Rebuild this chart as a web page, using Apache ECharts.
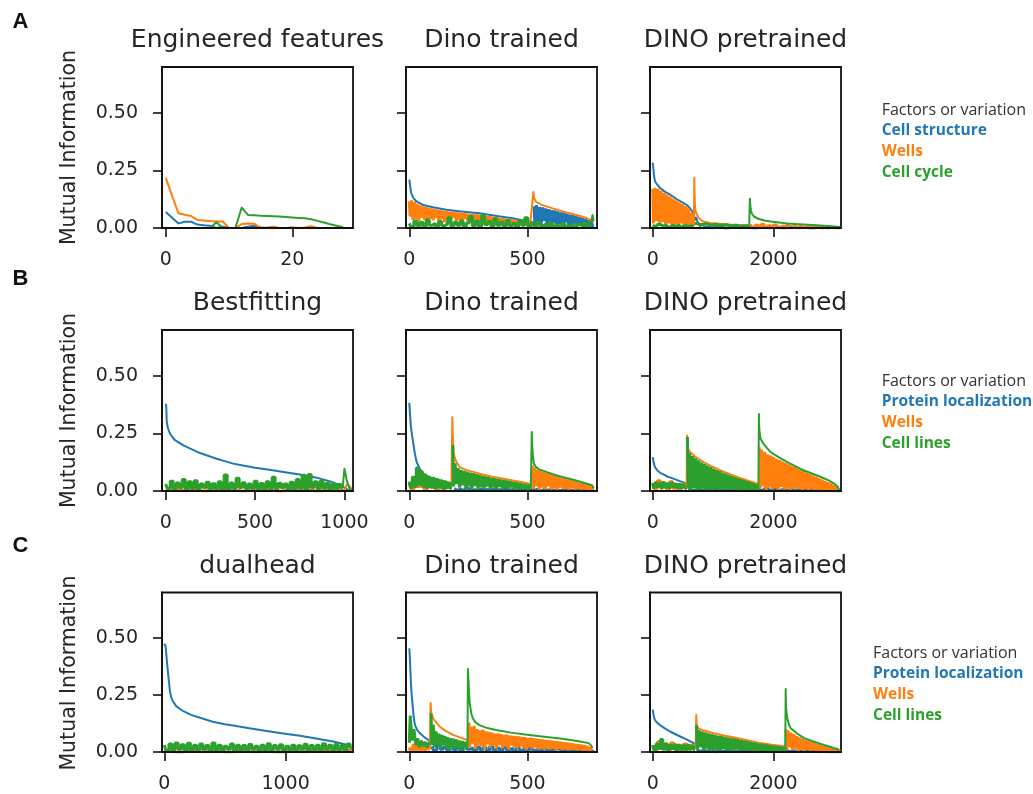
<!DOCTYPE html>
<html><head><meta charset="utf-8">
<script src="https://cdn.jsdelivr.net/npm/echarts@6/dist/echarts.min.js"></script>
<style>html,body{margin:0;padding:0;background:#fff}#c{width:1033px;height:794px}</style>
</head><body><div id="c"></div>
<script>
// ---------- text / ticks ----------
const titles = [['Engineered features','Dino trained','DINO pretrained'],['Bestfitting','Dino trained','DINO pretrained'],['dualhead','Dino trained','DINO pretrained']];
const rowFactors = [['Cell structure','Wells','Cell cycle'],['Protein localization','Wells','Cell lines'],['Protein localization','Wells','Cell lines']];
const panelLetters = ['A','B','C'];
const legendHeading = 'Factors or variation';
const yLabel = 'Mutual Information';
const yTicks = [0, 0.25, 0.5];
const xTicksA1 = [0, 20];
const xTicksB1 = [0, 500, 1000];
const xTicksC1 = [0, 1000];
const xTicksDino = [0, 500];
const xTicksPre = [0, 2000];

// ---------- A1: Engineered features (x = feature index 0..28) ----------
const A1_blue   = [0.07,0.045,0.02,0.027,0.027,0.015,0.012,0.01,0,0.006,0,0,0,0.005,0.01,0.002,0,0,0,0,0,0,0,0,0,0,0,0,0];
const A1_orange = [0.218,0.14,0.064,0.058,0.052,0.035,0.033,0.03,0.028,0.028,0,0,0.017,0.02,0.018,0,0.002,0.006,0,0,0.003,0,0.002,0.008,0,0,0,0,0];
const A1_green  = [0,0,0,0,0,0,0,0,0.025,0,0,0,0.089,0.057,0.055,0.053,0.052,0.051,0.05,0.048,0.046,0.044,0.042,0.038,0.031,0.024,0.016,0.01,0.003];

// ---------- A2: Dino trained ----------
const A2_blueSorted = [[0,0.21],[4,0.18],[8,0.152],[17,0.13],[31,0.115],[59,0.1],[100,0.09],[157,0.079],[220,0.072],[297,0.064],[370,0.052],[437,0.042],[494,0.031],[522,0.026]];
const A2_blueNoise = [0.095,0.012,0.1,0.02,0.092,0.008,0.09,0.03,0.085,0.015,0.082,0.005,0.078,0.022,0.076,0.01,0.072,0.018,0.068,0.006,0.066,0.025,0.062,0.012,0.058,0.004,0.056,0.02,0.052,0.01,0.048,0.016,0.044,0.005,0.04,0.012,0.034,0.008,0.028,0.004];
const A2_orangeNoise = [0.115,0.05,0.12,0.035,0.115,0.04,0.105,0.03,0.098,0.045,0.094,0.035,0.091,0.028,0.088,0.04,0.085,0.033,0.082,0.045,0.08,0.03,0.077,0.038,0.075,0.025,0.073,0.04,0.071,0.032,0.07,0.045,0.068,0.03,0.067,0.036,0.066,0.022,0.064,0.04,0.063,0.03,0.062,0.035,0.06,0.028,0.059,0.038,0.058,0.03,0.056,0.024,0.054,0.034,0.052,0.028,0.05,0.032,0.048,0.022,0.046,0.03,0.044,0.026,0.042,0.031,0.04,0.02,0.038,0.028,0.036,0.022,0.034,0.026,0.032,0.018,0.03,0.024,0.028,0.018,0.026,0.02,0.023,0.015];
const A2_orangeSorted = [[512,0.022],[525,0.157],[528,0.13],[535,0.115],[541,0.108],[560,0.1],[583,0.093],[620,0.081],[653,0.071],[690,0.061],[723,0.052],[750,0.043],[772,0.033],[780,0.028]];
const A2_greenNoise = [0.02,0.005,0.03,0.01,0.025,0.004,0.035,0.012,0.02,0.006,0.028,0.01,0.018,0.045,0.008,0.025,0.012,0.03,0.005,0.022,0.05,0.01,0.03,0.006,0.055,0.015,0.028,0.008,0.04,0.012,0.025,0.006,0.033,0.01,0.02,0.004,0.03,0.012,0.045,0.008,0.02,0.005,0.025,0.01,0.018,0.004,0.022,0.008,0.015,0.005,0.02,0.006,0.012,0.018,0.005,0.015,0.008,0.02,0.006,0.025];
const A2_greenTail = [[770,0.025],[775,0.057],[780,0.03]];

// ---------- A3: DINO pretrained ----------
const A3_blueSorted = [[0,0.284],[10,0.26],[20,0.23],[38,0.203],[70,0.19],[122,0.174],[200,0.158],[288,0.145],[400,0.125],[500,0.11],[566,0.1],[620,0.085],[660,0.07],[688,0.05],[700,0.035],[720,0.045],[740,0.03],[770,0.015],[800,0.005]];
const A3_blueNoise = [0.004,0.001,0.006,0,0.003,0.002,0.005,0,0.004,0.001,0.003,0,0.004,0.001,0.002,0,0.003,0.001,0.002,0];
const A3_orangeNoise = [0.17,0.02,0.175,0.03,0.17,0.015,0.162,0.025,0.152,0.012,0.145,0.02,0.137,0.01,0.128,0.018,0.12,0.012,0.112,0.02,0.104,0.01,0.096,0.015,0.085,0.012,0.065,0.01];
const A3_orangeSorted = [[682,0.01],[690,0.218],[695,0.15],[700,0.1],[710,0.075],[722,0.064],[760,0.045],[800,0.035],[840,0.028],[950,0.022],[1100,0.018],[1300,0.014],[1500,0.011],[1600,0.01]];
const A3_orangeNoise2 = [0.015,0.002,0.012,0.004,0.016,0.001,0.01,0.003,0.013,0.001,0.009,0.002,0.011,0,0.008,0.002,0.009,0.001,0.007,0,0.006,0.002,0.005,0,0.004,0.001,0.003,0,0.002,0];
const A3_greenNoise = [0.012,0.005,0.015,0.008,0.013,0.004,0.012,0.007,0.014,0.005,0.011,0.006,0.01,0.008];
const A3_greenNoise2 = [0.02,0.015,0.018,0.013,0.016,0.012,0.014,0.01,0.012,0.009,0.01,0.008];
const A3_greenSorted = [[1600,0.008],[1611,0.127],[1620,0.095],[1630,0.075],[1645,0.062],[1678,0.05],[1750,0.04],[1850,0.033],[1955,0.028],[2233,0.02],[2500,0.015],[2788,0.011],[3000,0.007],[3110,0.004]];

// ---------- B1: Bestfitting ----------
const B1_blueSorted = [[0,0.379],[3,0.37],[6,0.3],[12,0.275],[24,0.249],[50,0.222],[99,0.198],[150,0.18],[192,0.165],[240,0.152],[285,0.14],[330,0.13],[378,0.119],[440,0.11],[500,0.101],[580,0.092],[659,0.083],[750,0.072],[845,0.058],[920,0.042],[976,0.025],[1000,0.015],[1010,0.008],[1025,0.003],[1040,0.001]];
const B1_orangeNoise = [0.002,0.008,0.001,0.005,0,0.01,0.002,0.004,0,0.006,0.001,0.003,0,0.005,0.002,0.004,0,0.003,0.001,0.002];
const B1_orangeTail = [[1000,0.002],[1005,0.01],[1015,0.03],[1025,0.035],[1035,0.015],[1040,0.005]];
const B1_greenNoise = [0.03,0.012,0.042,0.01,0.035,0.015,0.05,0.008,0.04,0.012,0.045,0.01,0.03,0.015,0.038,0.01,0.032,0.012,0.04,0.008,0.07,0.01,0.035,0.012,0.055,0.015,0.036,0.01,0.03,0.012,0.042,0.01,0.033,0.008,0.04,0.012,0.06,0.01,0.034,0.014,0.03,0.008,0.038,0.01,0.05,0.012,0.068,0.01,0.072,0.015,0.04,0.01,0.045,0.012,0.035,0.008,0.03,0.01,0.028,0.012];
const B1_greenTail = [[990,0.012],[995,0.02],[1000,0.097],[1005,0.08],[1012,0.05],[1020,0.03],[1030,0.01],[1040,0.005]];

// ---------- B2: Dino trained ----------
const B2_blueSorted = [[0,0.383],[3,0.33],[7,0.277],[12,0.24],[17,0.205],[24,0.16],[31,0.126],[45,0.095],[59,0.075],[80,0.062],[101,0.054],[140,0.042],[178,0.032],[185,0.028]];
const B2_blueNoise = [0.01,0.003,0.008,0.001,0.012,0.004,0.006,0.002,0.01,0.003,0.007,0.001,0.009,0.004,0.006,0.002,0.011,0.003,0.007,0.001,0.008,0.003,0.01,0.002,0.006,0.004,0.009,0.001,0.007,0.003,0.008,0.002,0.005,0.001,0.007,0.003,0.006,0.001,0.005,0.002,0.004,0.001,0.003,0.001,0.002];
const B2_orangeNoise = [0.04,0.01,0.05,0.02,0.035,0.008,0.045,0.015,0.03,0.01,0.04,0.012,0.03,0.015];
const B2_orangeSorted = [[178,0.015],[182,0.321],[184,0.24],[187,0.17],[192,0.145],[200,0.125],[213,0.104],[240,0.092],[270,0.083],[297,0.075],[350,0.062],[400,0.053],[437,0.046],[480,0.038],[507,0.032],[516,0.03]];
const B2_orangeNoise2 = [0.11,0.01,0.1,0.02,0.091,0.005,0.086,0.015,0.082,0.008,0.078,0.02,0.073,0.006,0.068,0.012,0.064,0.004,0.06,0.015,0.057,0.008,0.054,0.01,0.05,0.004,0.047,0.012,0.044,0.006,0.04,0.01,0.036,0.003,0.033,0.008,0.03,0.004,0.025,0.006,0.018,0.002];
const B2_greenNoise = [0.04,0.015,0.06,0.02,0.1,0.03,0.085,0.02,0.07,0.015,0.06,0.02,0.055,0.012,0.05,0.018,0.045,0.01,0.04,0.015,0.035,0.01];
const B2_greenNoise2 = [0.2,0.02,0.12,0.03,0.1,0.015,0.092,0.025,0.088,0.01,0.084,0.02,0.08,0.012,0.077,0.022,0.073,0.008,0.07,0.018,0.066,0.01,0.063,0.02,0.06,0.008,0.057,0.015,0.055,0.01,0.052,0.018,0.05,0.006,0.048,0.014,0.045,0.01,0.042,0.016,0.04,0.006,0.037,0.012,0.035,0.008,0.032,0.012,0.03,0.006,0.027,0.01];
const B2_greenSorted = [[514,0.01],[518,0.256],[520,0.2],[523,0.15],[527,0.119],[535,0.105],[549,0.094],[580,0.083],[610,0.072],[647,0.061],[690,0.05],[730,0.038],[773,0.025],[780,0.012]];

// ---------- B3: DINO pretrained ----------
const B3_blueSorted = [[0,0.147],[10,0.133],[20,0.118],[38,0.104],[80,0.088],[130,0.078],[177,0.072],[250,0.062],[343,0.054],[450,0.043],[566,0.032],[580,0.028]];
const B3_blueNoise = [0.012,0.003,0.01,0.002,0.008,0.001,0.011,0.003,0.006,0.002,0.009,0.001,0.007,0.003,0.005,0.001,0.006,0.002,0.004,0.001,0.012,0.003,0.01,0.002,0.008,0.001,0.007,0.002,0.005,0.001,0.006,0.002,0.004,0.001,0.005,0.001,0.003,0.001,0.002,0];
const B3_orangeNoise = [0.035,0.01,0.045,0.015,0.03,0.008,0.04,0.012,0.028,0.01,0.03,0.012];
const B3_orangeSorted = [[562,0.012],[570,0.241],[575,0.2],[590,0.18],[622,0.169],[700,0.15],[843,0.126],[980,0.107],[1122,0.09],[1260,0.075],[1400,0.061],[1560,0.047],[1733,0.032],[1755,0.03]];
const B3_orangeNoise2 = [0.19,0.01,0.18,0.02,0.17,0.005,0.16,0.015,0.155,0.008,0.148,0.012,0.14,0.004,0.134,0.018,0.128,0.006,0.122,0.01,0.116,0.003,0.11,0.012,0.104,0.007,0.098,0.01,0.092,0.004,0.086,0.009,0.08,0.002,0.074,0.008,0.068,0.005,0.062,0.006,0.056,0.002,0.05,0.005,0.044,0.003,0.038,0.004,0.032,0.001,0.024,0.003,0.015,0.001];
const B3_greenNoise = [0.035,0.01,0.04,0.015,0.038,0.008,0.042,0.012,0.036,0.01,0.04,0.014,0.035,0.008,0.033,0.01,0.03,0.012];
const B3_greenNoise2 = [0.235,0.01,0.165,0.005,0.152,0.012,0.142,0.004,0.133,0.008,0.125,0.01,0.117,0.003,0.11,0.009,0.104,0.006,0.097,0.011,0.091,0.004,0.086,0.008,0.08,0.005,0.075,0.01,0.07,0.003,0.065,0.007,0.06,0.005,0.056,0.008,0.051,0.003,0.047,0.006,0.043,0.004,0.039,0.005,0.035,0.003,0.03,0.004];
const B3_greenSorted = [[1752,0.004],[1761,0.335],[1765,0.28],[1775,0.25],[1788,0.227],[1850,0.2],[1955,0.169],[2100,0.145],[2233,0.126],[2370,0.107],[2511,0.089],[2650,0.075],[2788,0.061],[2900,0.048],[3010,0.032],[3070,0.018],[3093,0.003]];

// ---------- C1: dualhead ----------
const C1_blueSorted = [[0,0.475],[5,0.47],[10,0.465],[15,0.44],[20,0.407],[33,0.335],[47,0.263],[60,0.235],[74,0.22],[100,0.2],[157,0.179],[220,0.163],[294,0.15],[400,0.133],[500,0.122],[569,0.116],[700,0.104],[844,0.092],[980,0.081],[1119,0.071],[1250,0.059],[1393,0.046],[1503,0.032],[1530,0.025],[1545,0.01]];
const C1_orangeNoise = [0.003,0,0.005,0.001,0.002,0,0.004,0.001,0.003,0,0.006,0.001,0.01,0.002,0.012,0.004];
const C1_greenNoise = [0.03,0.008,0.035,0.01,0.04,0.012,0.032,0.006,0.038,0.01,0.03,0.008,0.035,0.012,0.028,0.006,0.04,0.01,0.03,0.008,0.025,0.012,0.035,0.006,0.03,0.01,0.028,0.008,0.033,0.012,0.025,0.006,0.03,0.01,0.036,0.008,0.028,0.012,0.032,0.006,0.025,0.01,0.03,0.008,0.027,0.012,0.034,0.006,0.028,0.01,0.03,0.008,0.036,0.012,0.03,0.006,0.033,0.01,0.028,0.008,0.035,0.02];

// ---------- C2: Dino trained ----------
const C2_blueSorted = [[0,0.455],[3,0.4],[6,0.321],[10,0.25],[14,0.205],[19,0.15],[24,0.118],[33,0.097],[45,0.082],[60,0.068],[80,0.053],[90,0.045]];
const C2_blueNoise = [0.025,0.008,0.03,0.012,0.022,0.006,0.028,0.01,0.02,0.005,0.025,0.012,0.018,0.006,0.022,0.01,0.02,0.004,0.024,0.008,0.018,0.006,0.022,0.01,0.016,0.004,0.02,0.008,0.015,0.005,0.018,0.008,0.014,0.004,0.016,0.007,0.012,0.004,0.014,0.006,0.012,0.003,0.01,0.005,0.009,0.003,0.008,0.002,0.006,0.002];
const C2_orangeNoise = [0.02,0.005,0.03,0.01,0.025,0.008,0.02,0.01,0.03,0.012];
const C2_orangeSorted = [[87,0.012],[90,0.215],[93,0.17],[101,0.147],[115,0.128],[129,0.111],[150,0.095],[185,0.075],[215,0.063],[244,0.053],[248,0.05]];
const C2_orangeNoise2 = [0.13,0.02,0.11,0.035,0.115,0.015,0.1,0.03,0.095,0.025,0.098,0.012,0.09,0.035,0.088,0.02,0.085,0.028,0.08,0.015,0.082,0.03,0.078,0.018,0.075,0.025,0.077,0.012,0.072,0.028,0.07,0.02,0.071,0.015,0.068,0.025,0.066,0.018,0.065,0.01,0.062,0.022,0.063,0.015,0.06,0.02,0.058,0.012,0.056,0.018,0.055,0.01,0.053,0.016,0.052,0.012,0.05,0.015,0.048,0.008,0.047,0.014,0.045,0.01,0.043,0.012,0.042,0.008,0.04,0.01,0.038,0.012,0.036,0.008,0.034,0.01,0.032,0.006,0.03,0.008,0.027,0.005,0.022,0.004];
const C2_greenNoise = [0.04,0.16,0.05,0.1,0.03,0.06,0.02,0.05,0.025,0.045,0.02,0.04];
const C2_greenNoise2 = [0.17,0.03,0.12,0.02,0.09,0.035,0.08,0.015,0.075,0.03,0.07,0.02,0.065,0.01,0.06,0.025,0.058,0.015,0.055,0.02,0.05,0.012,0.048,0.02,0.045,0.015];
const C2_greenSorted = [[246,0.015],[248,0.364],[251,0.3],[255,0.22],[262,0.17],[269,0.147],[280,0.13],[297,0.118],[330,0.105],[367,0.097],[430,0.085],[507,0.075],[580,0.066],[647,0.058],[710,0.048],[759,0.039],[770,0.028],[775,0.017]];

// ---------- C3: DINO pretrained ----------
const C3_blueSorted = [[0,0.186],[10,0.17],[20,0.152],[38,0.14],[80,0.127],[122,0.118],[200,0.104],[288,0.09],[370,0.079],[455,0.068],[560,0.055],[677,0.039],[700,0.034]];
const C3_blueNoise = [0.01,0.003,0.008,0.002,0.012,0.001,0.006,0.003,0.009,0.002,0.005,0.001,0.007,0.003,0.006,0.001,0.005,0.002,0.004,0.001,0.008,0.002,0.01,0.003,0.007,0.001,0.006,0.002,0.005,0.001,0.004,0.002,0.003,0.001,0.004,0.001,0.002,0.001,0.002,0];
const C3_orangeNoise = [0.03,0.01,0.045,0.015,0.035,0.008,0.04,0.012,0.03,0.01,0.035,0.012,0.03,0.015];
const C3_orangeSorted = [[712,0.015],[722,0.162],[726,0.13],[735,0.115],[760,0.104],[850,0.094],[1010,0.082],[1200,0.071],[1400,0.061],[1600,0.05],[1788,0.039],[2000,0.031],[2177,0.025],[2200,0.024]];
const C3_orangeNoise2 = [0.1,0.01,0.095,0.02,0.085,0.008,0.078,0.015,0.07,0.005,0.064,0.012,0.058,0.004,0.053,0.01,0.048,0.006,0.043,0.008,0.039,0.003,0.035,0.007,0.031,0.004,0.027,0.005,0.023,0.002,0.019,0.004,0.015,0.002,0.011,0.003,0.007,0.001];
const C3_greenNoise = [0.03,0.01,0.035,0.015,0.055,0.012,0.035,0.01,0.03,0.015,0.032,0.008,0.03,0.012,0.028,0.01,0.03,0.012,0.025,0.01];
const C3_greenNoise2 = [0.118,0.01,0.096,0.02,0.09,0.008,0.086,0.015,0.082,0.005,0.078,0.012,0.075,0.01,0.072,0.006,0.069,0.014,0.066,0.008,0.064,0.01,0.061,0.004,0.059,0.012,0.056,0.007,0.053,0.009,0.05,0.005,0.048,0.01,0.045,0.006,0.042,0.008,0.039,0.004,0.036,0.007,0.034,0.005,0.032,0.006,0.03,0.003,0.028,0.005,0.026,0.004,0.024,0.003,0.022,0.002];
const C3_greenSorted = [[2197,0.002],[2205,0.277],[2210,0.2],[2220,0.17],[2233,0.147],[2260,0.12],[2288,0.104],[2400,0.08],[2511,0.061],[2650,0.047],[2788,0.035],[2950,0.022],[3093,0.01]];

// ---------- helpers ----------
// spread sampled values evenly over a feature-index span
function S(x0, x1, ys) { const n = ys.length; return ys.map((y, i) => [x0 + (x1 - x0) * i / (n - 1), y]); }
function idx(ys) { return ys.map((y, i) => [i, y]); }
// piece types: L = smooth (sorted) line, N = dense noisy trace
const L = d => ({ d: d, noisy: false });
const N = d => ({ d: d, noisy: true });

const panels = [
  { xr: [-0.6, 29.6], xt: xTicksA1, lines: [[L(idx(A1_blue))], [L(idx(A1_orange))], [L(idx(A1_green))]] },
  { xr: [-14, 794], xt: xTicksDino, lines: [
      [L(A2_blueSorted), N(S(528, 780, A2_blueNoise))],
      [N(S(0, 508, A2_orangeNoise)), L(A2_orangeSorted)],
      [N(S(0, 768, A2_greenNoise)), L(A2_greenTail)]] },
  { xr: [-45, 3122], xt: xTicksPre, lines: [
      [L(A3_blueSorted), N(S(830, 3100, A3_blueNoise))],
      [N(S(0, 680, A3_orangeNoise)), L(A3_orangeSorted), N(S(1620, 3100, A3_orangeNoise2))],
      [N(S(0, 680, A3_greenNoise)), N(S(700, 1600, A3_greenNoise2)), L(A3_greenSorted)]] },
  { xr: [-20.7, 1048], xt: xTicksB1, lines: [
      [L(B1_blueSorted)],
      [N(S(0, 1000, B1_orangeNoise)), L(B1_orangeTail)],
      [N(S(0, 990, B1_greenNoise)), L(B1_greenTail)]] },
  { xr: [-14, 794], xt: xTicksDino, lines: [
      [L(B2_blueSorted), N(S(190, 780, B2_blueNoise))],
      [N(S(0, 178, B2_orangeNoise)), L(B2_orangeSorted), N(S(522, 780, B2_orangeNoise2))],
      [N(S(0, 178, B2_greenNoise)), N(S(184, 514, B2_greenNoise2)), L(B2_greenSorted)]] },
  { xr: [-45, 3122], xt: xTicksPre, lines: [
      [L(B3_blueSorted), N(S(600, 3100, B3_blueNoise))],
      [N(S(0, 560, B3_orangeNoise)), L(B3_orangeSorted), N(S(1768, 3095, B3_orangeNoise2))],
      [N(S(0, 560, B3_greenNoise)), N(S(575, 1750, B3_greenNoise2)), L(B3_greenSorted)]] },
  { xr: [-19, 1556], xt: xTicksC1, lines: [
      [L(C1_blueSorted)],
      [N(S(0, 1545, C1_orangeNoise))],
      [N(S(0, 1545, C1_greenNoise))]] },
  { xr: [-14, 794], xt: xTicksDino, lines: [
      [L(C2_blueSorted), N(S(95, 780, C2_blueNoise))],
      [N(S(0, 86, C2_orangeNoise)), L(C2_orangeSorted), N(S(252, 775, C2_orangeNoise2))],
      [N(S(0, 86, C2_greenNoise)), N(S(92, 246, C2_greenNoise2)), L(C2_greenSorted)]] },
  { xr: [-45, 3122], xt: xTicksPre, lines: [
      [L(C3_blueSorted), N(S(730, 3100, C3_blueNoise))],
      [N(S(0, 700, C3_orangeNoise)), L(C3_orangeSorted), N(S(2210, 3100, C3_orangeNoise2))],
      [N(S(0, 700, C3_greenNoise)), N(S(725, 2195, C3_greenNoise2)), L(C3_greenSorted)]] }
];

// ---------- layout / style ----------
const colors = ['#1f77b4', '#ff7f0e', '#2ca02c'];
const gridLeft = [162, 406, 650], gridTop = [67, 330, 592.5], gridW = 191, gridH = 161;
const titleY = [40, 303, 566];
const letterY = [21.7, 279, 545.5];
const legHeadX = [881.7, 881.7, 873], legHeadY = [110, 381.7, 653];
const legTop = [120.5, 391.5, 663.5];
const tickFont = { fontFamily: 'DejaVu Sans', fontSize: 19, color: '#262626' };
const frame = '#111';

const grids = [], xAxes = [], yAxes = [], series = [], graphics = [], legends = [];
panels.forEach((p, i) => {
  const r = Math.floor(i / 3), c = i % 3;
  grids.push({ left: gridLeft[c], top: gridTop[r], width: gridW, height: gridH, show: true, borderColor: frame, borderWidth: 1.8, backgroundColor: 'transparent' });
  xAxes.push({
    gridIndex: i, type: 'value', min: p.xr[0], max: p.xr[1], z: 5,
    axisLine: { show: true, onZero: false, lineStyle: { color: frame, width: 1.8 } },
    splitLine: { show: false },
    axisTick: { show: true, customValues: p.xt, length: 9, lineStyle: { color: frame, width: 1.6 } },
    axisLabel: Object.assign({ customValues: p.xt, margin: 23, formatter: v => String(v) }, tickFont)
  });
  yAxes.push({
    gridIndex: i, type: 'value', min: 0, max: 0.7, z: 5,
    axisLine: { show: true, onZero: false, lineStyle: { color: frame, width: 1.8 } },
    splitLine: { show: false },
    axisTick: { show: true, customValues: yTicks, length: 9, lineStyle: { color: frame, width: 1.6 } },
    axisLabel: Object.assign({ show: c === 0, customValues: yTicks, margin: 24, formatter: v => v.toFixed(2) }, tickFont)
  });
  p.lines.forEach((pieces, k) => {
    pieces.forEach(pc => {
      series.push({
        type: 'line', name: rowFactors[r][k], xAxisIndex: i, yAxisIndex: i, data: pc.d,
        step: pc.noisy ? 'middle' : false,
        symbol: 'none', showSymbol: false, color: colors[k], silent: true, animation: false,
        lineStyle: pc.noisy ? { color: colors[k], width: 3, join: 'bevel', cap: 'butt' } : { color: colors[k], width: 2, join: 'round' }, z: 2
      });
    });
  });
  graphics.push({ type: 'text', x: gridLeft[c] + gridW / 2, y: titleY[r], style: { text: titles[r][c], fontFamily: 'DejaVu Sans', fontSize: 25, fill: '#262626', textAlign: 'center', textVerticalAlign: 'middle' } });
});
for (let r = 0; r < 3; r++) {
  graphics.push({ type: 'text', x: 70, y: gridTop[r] + gridH / 2, rotation: Math.PI / 2, style: { text: yLabel, fontFamily: 'DejaVu Sans', fontSize: 20.5, fill: '#262626', textAlign: 'center', textVerticalAlign: 'middle' } });
  graphics.push({ type: 'text', x: 20.5, y: letterY[r], style: { text: panelLetters[r], fontFamily: 'Liberation Sans', fontWeight: 'bold', fontSize: 22, fill: '#111', textAlign: 'center', textVerticalAlign: 'middle' } });
  graphics.push({ type: 'text', x: legHeadX[r], y: legHeadY[r], style: { text: legendHeading, fontFamily: 'Open Sans', fontSize: 16, fill: '#333', textAlign: 'left', textVerticalAlign: 'middle' } });
  legends.push({
    orient: 'vertical', left: legHeadX[r] - 5, top: legTop[r], padding: 0, itemGap: 0, itemWidth: 0, itemHeight: 14,
    icon: 'none', selectedMode: false,
    textStyle: { fontFamily: 'Open Sans', fontSize: 15.5, fontWeight: 'bold', lineHeight: 21 },
    data: rowFactors[r].map((n, k) => ({ name: n, textStyle: { color: colors[k], fontWeight: 'bold' } }))
  });
}

const chart = echarts.init(document.getElementById('c'), null, { renderer: 'canvas' });
chart.setOption({
  backgroundColor: '#fff', animation: false,
  grid: grids, xAxis: xAxes, yAxis: yAxes, series: series, legend: legends, graphic: graphics
});
</script></body></html>
